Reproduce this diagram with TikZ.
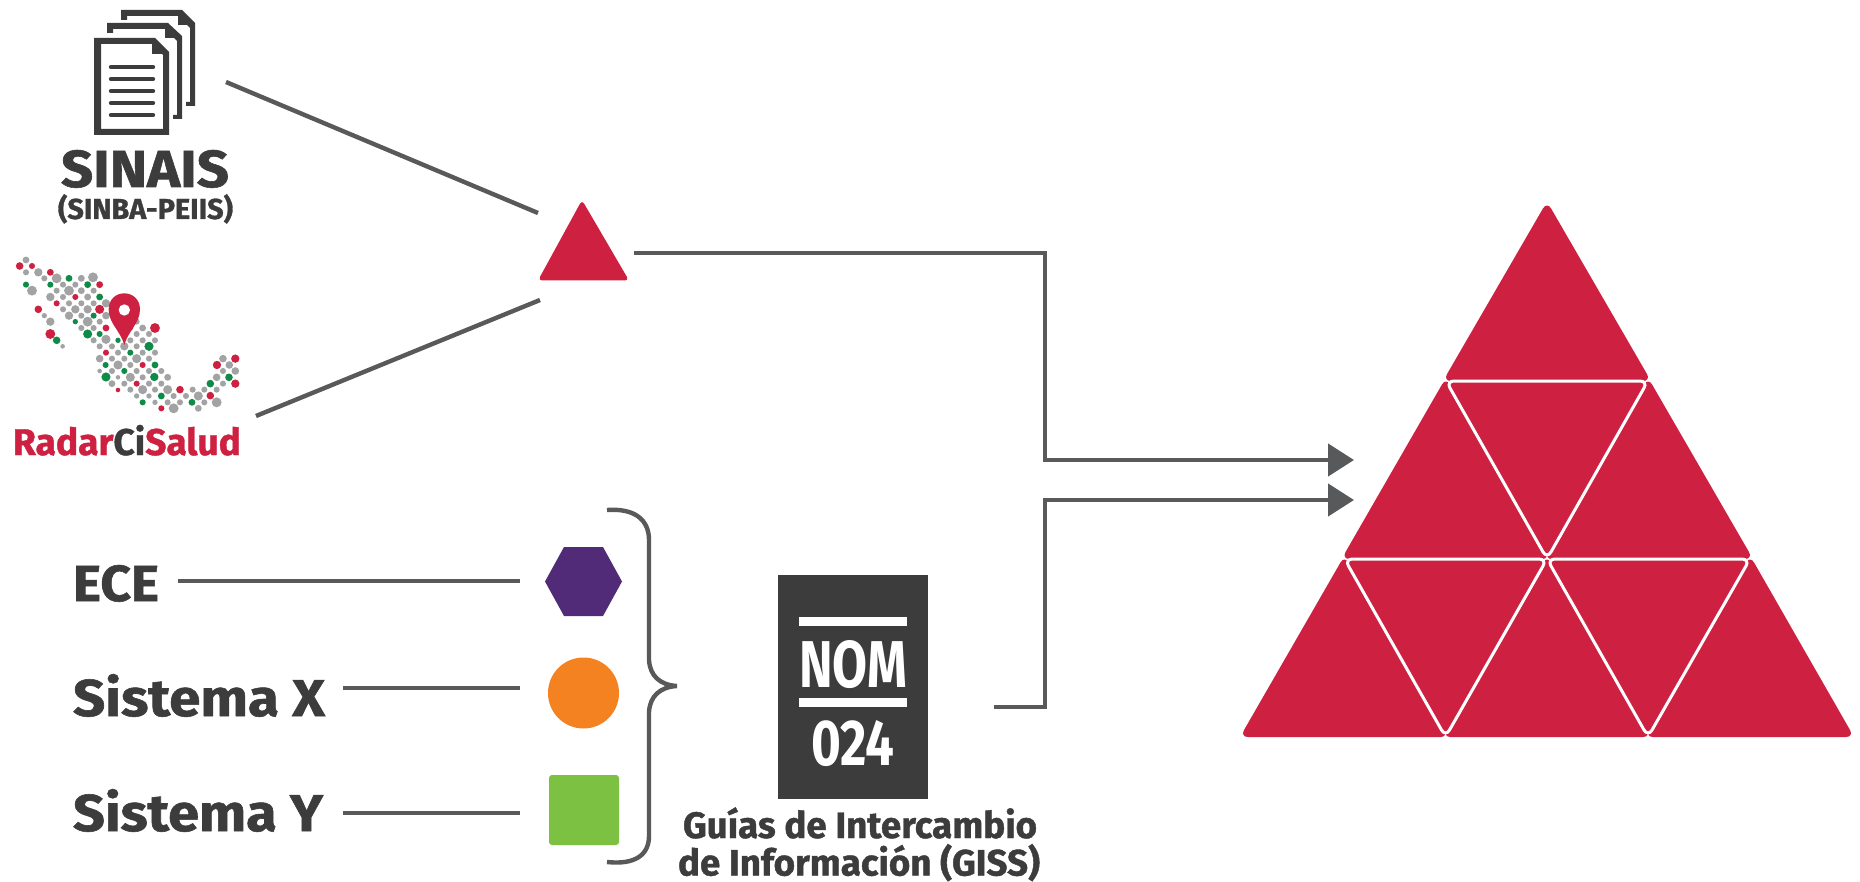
\documentclass[tikz,border=0pt]{standalone}
\usepackage{fontspec}
\usepackage{graphicx}
\setmainfont{Fira Sans}[BoldFont={Fira Sans Bold},BoldFeatures={FakeBold=1.1}]
\newfontfamily\nomfont{Fira Sans Bold}
\usetikzlibrary{arrows.meta,calc}
\definecolor{rojo}{HTML}{CE2141}
\definecolor{oscuro}{HTML}{3C3C3C}
\definecolor{linea}{HTML}{58595B}
\definecolor{puntog}{HTML}{A3A3A3}
\definecolor{puntov}{HTML}{0F8A47}
\definecolor{morado}{HTML}{512A78}
\definecolor{naranja}{HTML}{F58220}
\definecolor{verde}{HTML}{7DC142}
\newcommand\fitw[2]{\resizebox{#1pt}{!}{\bfseries #2}}
\newcommand\fitwh[3]{\resizebox{#1pt}{#2pt}{\bfseries #3}}
\newcommand\fitnom[3]{\resizebox{#1pt}{#2pt}{\nomfont #3}}
\newcommand\uptri[3]{\fill[up] ($(#1)+(0,-3.5)$) -- ($(#2)+(3,0)$) -- ($(#3)+(-3,0)$) -- cycle;}
\tikzset{
  conn/.style={draw=linea,line width=4.4pt},
  arrowconn/.style={conn,-{Triangle[length=26pt,width=32pt]}},
  label/.style={inner sep=0pt,outer sep=0pt,text=oscuro,anchor=base west},
  up/.style={fill=rojo,rounded corners=8pt},
  down/.style={fill=rojo,draw=white,line width=3pt,rounded corners=8pt},
  rowline/.style={draw=oscuro,line width=4.4pt,line cap=round},
  pr/.style={fill=rojo},
  pv/.style={fill=puntov},
  pg/.style={fill=puntog},
}
\begin{document}
\begin{tikzpicture}[x=1pt,y=-1pt]
\useasboundingbox (0,0) rectangle (1860,882);
\fill[white] (0,0) rectangle (1860,882);

% ---- document icon
\fill[oscuro] (121,10) -- (182,10) -- (195,23) -- (195,106) -- (186,106) -- (186,102) -- (190,102) -- (190,28) -- (178,16) -- (127,16) -- (127,20) -- (121,20) -- cycle;
\fill[oscuro] (178,12) -- (178,25) -- (192,25) -- cycle;
\fill[oscuro] (107,23) -- (168,23) -- (182,36) -- (182,119) -- (173,119) -- (173,115) -- (177,115) -- (177,41) -- (165,29) -- (113,29) -- (113,33) -- (107,33) -- cycle;
\fill[oscuro] (165,25) -- (165,38) -- (179,38) -- cycle;
\fill[white] (101,44) -- (152,44) -- (163,54) -- (163,129) -- (101,129) -- cycle;
\fill[oscuro,even odd rule] (94,38) -- (155,38) -- (169,52) -- (169,135) -- (94,135) -- cycle
  (101,44) -- (152,44) -- (163,55) -- (163,129) -- (101,129) -- cycle;
\fill[oscuro] (152,40) -- (152,54) -- (167,54) -- cycle;
\foreach \yy in {67,79,91,103,115} \draw[rowline] (111,\yy) -- (153,\yy);
\node[label] (sinais) at (61,187) {\fitwh{168}{37}{SINAIS}};
\node[label] (sinba) at (58,219) {\fitw{175}{(SINBA-PEIIS)}};

% ---- map
\begin{scope}[shift={(0,240)},x=0.3333pt,y=-0.3333pt]
\foreach \a/\b/\r in {59/78/10,96/78/8,151/97/9,299/134/9,226/171/8,170/190/8,115/208/10,299/208/12,318/264/9,465/264/13,151/282/13,318/338/8,428/375/8,410/431/8,354/450/6,540/449/10,631/467/10,484/505/8,651/375/11,706/356/11,706/431/11}
  \fill[pr] (\a,\b) circle[radius=\r*0.38pt];
\foreach \a/\b/\r in {207/115/9,78/134/8,151/134/8,263/134/9,299/171/9,281/227/8,226/245/7,263/282/12,299/282/8,170/301/10,354/301/7,447/319/12,391/338/8,317/375/8,465/375/9,373/393/8,318/411/12,463/411/11,484/468/9,428/487/8,576/487/9,631/431/10,687/412/10}
  \fill[pv] (\a,\b) circle[radius=\r*0.38pt];
\foreach \a/\b/\r in {78/60/9,78/97/8,115/97/11,133/115/8,170/115/13,244/115/9,279/112/13,189/134/8,226/134/8,96/152/13,170/152/8,207/152/13,244/152/9,281/152/8,151/171/11,189/171/8,263/171/9,207/190/8,244/190/8,281/190/8,318/190/11,189/208/8,226/208/11,263/208/11,207/227/11,244/227/8,318/227/10,133/227/7,151/245/11,263/245/13,299/245/8,410/245/8,244/264/8,281/264/8,391/264/8,428/264/9,410/282/8,447/282/8,281/301/8,318/298/12,391/301/8,428/301/8,465/301/8,188/319/6,299/319/8,336/319/8,373/319/11,410/319/8,354/338/8,428/338/8,465/338/8,299/356/10,336/356/8,373/356/8,410/356/12,447/356/8,669/356/10,354/375/12,391/375/8,688/375/10,299/393/6,336/393/8,410/393/8,447/393/8,484/393/8,669/393/8,706/393/10,354/412/6,391/412/12,428/412/8,503/412/9,650/412/10,336/431/9,373/431/8,447/431/8,484/431/8,669/431/8,391/449/8,428/449/12,465/449/8,503/449/12,578/449/8,613/449/8,650/449/8,410/468/7,447/468/7,521/468/8,558/468/8,595/468/12,465/487/7,503/487/8,540/487/8,613/487/8,650/487/13,521/505/13,595/505/9}
  \fill[pg] (\a,\b) circle[radius=\r*0.38pt];
\fill[rojo] (373,315) .. controls (360,270) and (326,250) .. (326,208) .. controls (326,178) and (348,160) .. (373,160) .. controls (398,160) and (420,178) .. (420,208) .. controls (420,250) and (386,270) .. (373,315) -- cycle;
\fill[white] (373,210) circle[radius=17*0.3333pt];
\end{scope}
\node[label] (radar) at (13,455) {\fitw{228}{\textcolor{rojo}{Radar}\textcolor{oscuro}{Ci}\textcolor{rojo}{Salud}}};

% ---- small triangle
\coordinate (ta) at (582,200);
\coordinate (tb) at (538,280.5);
\coordinate (tc) at (629,280.5);
\fill[up,rounded corners=4pt] (ta) -- (tc) -- (tb) -- cycle;
\coordinate (s1) at (226,82);
\coordinate (s2) at (538,213);
\coordinate (r1) at (256,416);
\coordinate (r2) at (540,300);
\draw[conn] (s1) -- (s2);
\draw[conn] (r1) -- (r2);
\coordinate (o1) at (634,253);
\coordinate (a1) at (1354,460);
\draw[arrowconn] (o1) -- (1045,253) -- (1045,460) -- (a1);

% ---- system labels
\node[label] (ece) at (73,601) {\fitwh{86}{36}{ECE}};
\node[label] (sx) at (73,716) {\fitwh{252}{42}{Sistema X}};
\node[label] (sy) at (73,831) {\fitwh{250}{42}{Sistema Y}};
\coordinate (e1) at (178,581);
\coordinate (e2) at (520,581);
\coordinate (x1) at (343,688);
\coordinate (x2) at (520,688);
\coordinate (y1) at (343,813);
\coordinate (y2) at (520,813);
\draw[conn] (e1) -- (e2);
\draw[conn] (x1) -- (x2);
\draw[conn] (y1) -- (y2);
\fill[morado] (545,581.5) -- (564,547) -- (603,547) -- (622,581.5) -- (603,616) -- (564,616) -- cycle;
\fill[naranja] (583.5,693) circle[radius=35.5pt];
\fill[verde,rounded corners=3pt] (549,775) rectangle (619,845);

% ---- brace
\draw[conn] (607,510) .. controls (635,508) and (649,520) .. (649,540)
  -- (649,660) .. controls (650,676) and (660,685) .. (677,686)
  .. controls (660,687) and (650,696) .. (649,712)
  -- (649,836) .. controls (649,855) and (635,865) .. (607,862);

% ---- NOM box
\fill[oscuro] (778,575) rectangle (928,799);
\fill[white] (799,617) rectangle (907,626);
\fill[white] (799,698) rectangle (907,707);
\node[label,text=white] (nom) at (799,687) {\fitnom{108}{47}{NOM}};
\node[label,text=white] (n024) at (811,765) {\fitnom{83}{45}{024}};
\node[label] (g1) at (683,838) {\fitw{354}{Guías de Intercambio}};
\node[label] (g2) at (678,875.5) {\fitw{362}{de Información (GISS)}};
\coordinate (o2) at (994,707);
\coordinate (a2) at (1354,500);
\draw[arrowconn] (o2) -- (1045,707) -- (1045,500) -- (a2);

% ---- pyramid
\coordinate (p0) at (1547,205);
\coordinate (p1l) at (1446,381);
\coordinate (p1r) at (1648,381);
\coordinate (p2l) at (1344.5,559);
\coordinate (p2m) at (1547,559);
\coordinate (p2r) at (1750,559);
\coordinate (p3a) at (1243,737);
\coordinate (p3b) at (1445.5,737);
\coordinate (p3c) at (1648,737);
\coordinate (p3d) at (1851,737);
\uptri{p0}{p1r}{p1l}
\uptri{p1l}{p2m}{p2l}
\uptri{p1r}{p2r}{p2m}
\uptri{p2l}{p3b}{p3a}
\uptri{p2m}{p3c}{p3b}
\uptri{p2r}{p3d}{p3c}
\draw[down] (p2m) -- (p1l) -- (p1r) -- cycle;
\draw[down] (p3b) -- (p2l) -- (p2m) -- cycle;
\draw[down] (p3c) -- (p2m) -- (p2r) -- cycle;
\end{tikzpicture}
\end{document}
